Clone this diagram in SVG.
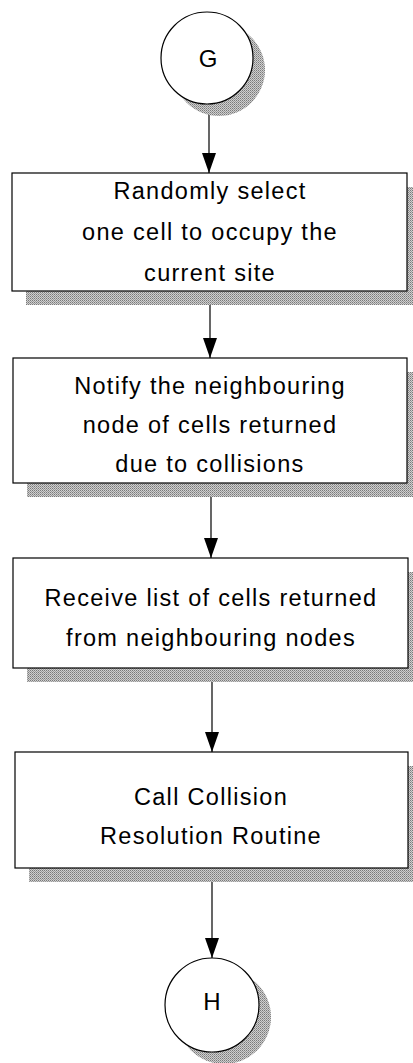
<svg xmlns="http://www.w3.org/2000/svg" width="413" height="1063" viewBox="0 0 413 1063">
  <defs>
    <!-- halftone dot screen used for the drop shadows -->
    <pattern id="screen" width="2" height="2" patternUnits="userSpaceOnUse">
      <rect width="2" height="2" fill="#cfcfcf"/>
      <rect x="0" y="0" width="1" height="1" fill="#7a7a7a"/>
      <rect x="1" y="1" width="1" height="1" fill="#9a9a9a"/>
    </pattern>
    <!-- solid triangular arrowhead, pointing along the path -->
    <marker id="head" viewBox="0 0 20 14" markerWidth="20" markerHeight="14" refX="20" refY="7" orient="auto" markerUnits="userSpaceOnUse">
      <path d="M0,0 L20,7 L0,14 Z" fill="#000"/>
    </marker>
  </defs>
  <style>
    .shadow { fill: url(#screen); stroke: none; }
    .box { fill: #fff; stroke: #000; stroke-width: 1.2; }
    .label { font-family: "Liberation Sans", Arial, sans-serif; font-size: 23.5px; letter-spacing: 1.3px; fill: #000; text-anchor: middle; }
    .term { font-family: "Liberation Sans", Arial, sans-serif; font-size: 24px; fill: #000; text-anchor: middle; }
    .edge { stroke: #000; stroke-width: 1.2; fill: none; }
  </style>
  <rect width="413" height="1063" fill="#fff"/>

  <!-- connectors -->
  <g id="connectors">
    <line class="edge" x1="209" y1="104" x2="209" y2="173" marker-end="url(#head)"/>
    <line class="edge" x1="210" y1="291" x2="210" y2="358" marker-end="url(#head)"/>
    <line class="edge" x1="211" y1="483" x2="211" y2="558" marker-end="url(#head)"/>
    <line class="edge" x1="212" y1="668" x2="212" y2="752" marker-end="url(#head)"/>
    <line class="edge" x1="212" y1="868" x2="212" y2="958" marker-end="url(#head)"/>
  </g>

  <!-- start connector G -->
  <g id="node-g">
    <circle class="shadow" cx="219" cy="70" r="46"/>
    <circle class="box" cx="207" cy="58" r="46"/>
    <text class="term" x="208" y="67">G</text>
  </g>

  <g id="node-select">
    <rect class="shadow" x="26" y="187" width="395" height="118"/>
    <rect class="box" x="12" y="173" width="395" height="118"/>
    <text class="label" x="210" y="199">Randomly select</text>
    <text class="label" x="210" y="240">one cell to occupy the</text>
    <text class="label" x="210" y="281">current site</text>
  </g>

  <g id="node-notify">
    <rect class="shadow" x="27" y="372" width="394" height="125"/>
    <rect class="box" x="13" y="358" width="394" height="125"/>
    <text class="label" x="210" y="394">Notify the neighbouring</text>
    <text class="label" x="210" y="433">node of cells returned</text>
    <text class="label" x="210" y="472">due to collisions</text>
  </g>

  <g id="node-receive">
    <rect class="shadow" x="27" y="572" width="395" height="110"/>
    <rect class="box" x="13" y="558" width="395" height="110"/>
    <text class="label" x="211" y="606">Receive list of cells returned</text>
    <text class="label" x="211" y="646">from neighbouring nodes</text>
  </g>

  <g id="node-resolve">
    <rect class="shadow" x="29" y="766" width="393" height="116"/>
    <rect class="box" x="15" y="752" width="393" height="116"/>
    <text class="label" x="211" y="805">Call Collision</text>
    <text class="label" x="211" y="844">Resolution Routine</text>
  </g>

  <!-- exit connector H -->
  <g id="node-h">
    <circle class="shadow" cx="224" cy="1017" r="47"/>
    <circle class="box" cx="212" cy="1005" r="47"/>
    <text class="term" x="212" y="1010">H</text>
  </g>
</svg>
